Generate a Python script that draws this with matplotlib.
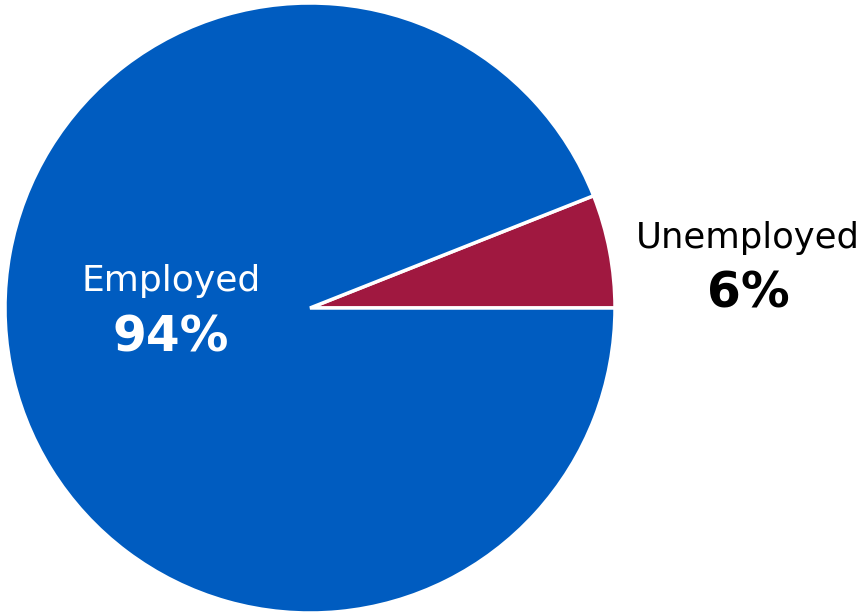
import matplotlib
matplotlib.use('Agg')
import matplotlib.pyplot as plt

labels = ['Unemployed', 'Employed']
values = [6, 94]
colors = ['#A01840', '#005CC0']

W, H = 867, 616
fig = plt.figure(figsize=(W / 100, H / 100), dpi=100)
# pie circle spans roughly x 5..615, y 3..613 px
ax = fig.add_axes([5 / W, 3 / H, 610 / W, 610 / H])

ax.pie(values, colors=colors, startangle=0, counterclock=True,
       wedgeprops=dict(edgecolor='white', linewidth=2.5))
ax.set_xlim(-1, 1)
ax.set_ylim(-1, 1)
ax.set_aspect('equal')
ax.axis('off')

# label positions given in pixels from top-left
def fx(x):
    return x / W

def fy(y):
    return 1 - y / H

fig.text(fx(171), fy(281), 'Employed', color='white', fontsize=26,
         ha='center', va='center')
fig.text(fx(171), fy(338), '94%', color='white', fontsize=35,
         fontweight='bold', ha='center', va='center')
fig.text(fx(748), fy(238), 'Unemployed', color='black', fontsize=25.5,
         ha='center', va='center')
fig.text(fx(748), fy(293), '6%', color='black', fontsize=35,
         fontweight='bold', ha='center', va='center')

fig.savefig('out.png', dpi=100)
